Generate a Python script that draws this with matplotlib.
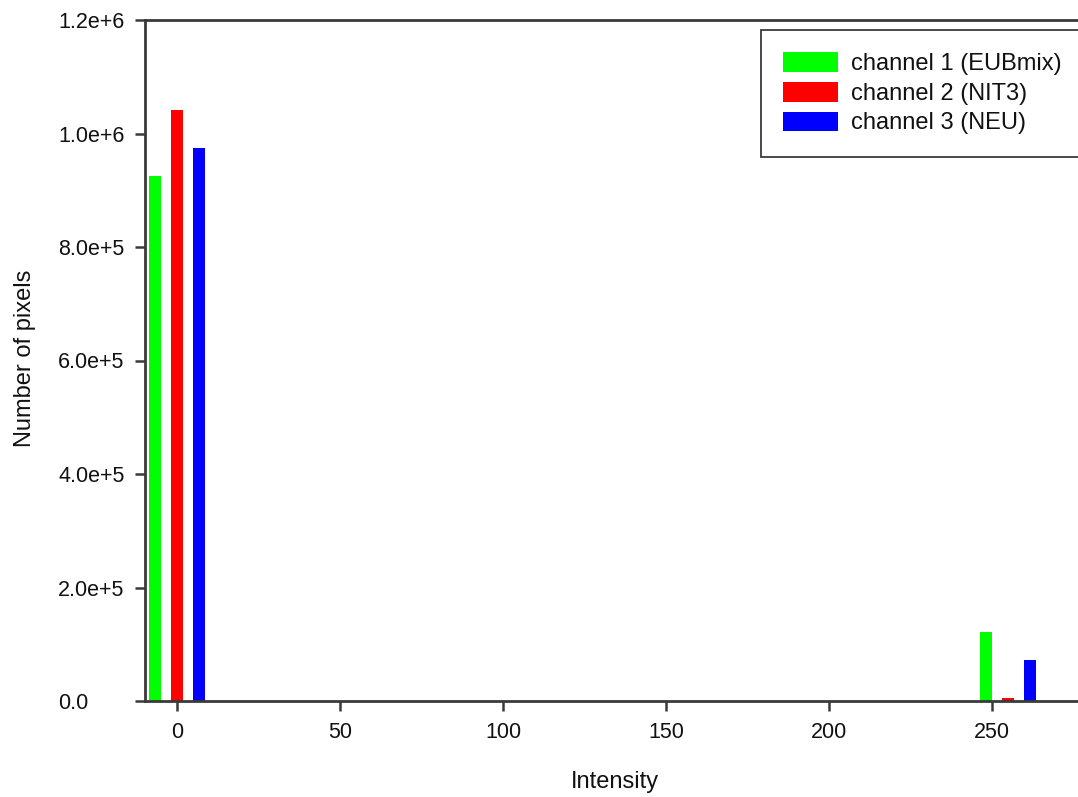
import matplotlib
matplotlib.use("Agg")
import matplotlib.pyplot as plt
import numpy as np

plt.rcParams['font.family'] = ['Liberation Sans', 'DejaVu Sans']

intensity_bins = [0, 255]
series_labels = ["channel 1 (EUBmix)", "channel 2 (NIT3)", "channel 3 (NEU)"]
channel1 = [925000, 122000]
channel2 = [1041000, 5300]
channel3 = [975000, 72000]
colors = ["#00ff00", "#ff0000", "#0000ff"]
xticks = [0, 50, 100, 150, 200, 250]
yticks = [0, 2e5, 4e5, 6e5, 8e5, 1e6, 1.2e6]
ytick_labels = ["0.0", "2.0e+5", "4.0e+5", "6.0e+5", "8.0e+5", "1.0e+6", "1.2e+6"]

W, H = 1078, 797
fig = plt.figure(figsize=(W / 100, H / 100), dpi=100)
x_left_val = -9.8
x_right_val = 280
px_per_unit = 3.26
ax_left_px = 145
ax_right_px = 177 + x_right_val * px_per_unit
ax = fig.add_axes([ax_left_px / W, (H - 701) / H,
                   (ax_right_px - ax_left_px) / W, (701 - 20) / H])

offsets = [-6.7, 0, 6.7]
width = 3.7
x = np.array(intensity_bins, dtype=float)
for vals, off, c, lab in zip([channel1, channel2, channel3], offsets, colors, series_labels):
    ax.bar(x + off, vals, width=width, color=c, edgecolor='none', label=lab)

ax.set_xlim(x_left_val, x_right_val)
ax.set_ylim(0, 1.2e6)
ax.set_xticks(xticks)
ax.set_xticklabels([str(t) for t in xticks])
ax.set_yticks(yticks)
ax.set_yticklabels(ytick_labels)

spine_color = "#3a3a3a"
for s in ax.spines.values():
    s.set_color(spine_color)
    s.set_linewidth(2.0)
ax.tick_params(axis='both', direction='out', length=7, width=1.8, color=spine_color,
               labelsize=15.5, labelcolor='#111111')
# y tick labels are left-aligned at x ~ 58 px
ax.tick_params(axis='y', pad=(135 - 58) * 0.72)
for t in ax.get_yticklabels():
    t.set_horizontalalignment('left')
ax.tick_params(axis='x', pad=8)

fig.text(615 / W, 1 - 782 / H, "Intensity", ha='center', va='center', fontsize=17, color='#111111')
fig.text(25 / W, 1 - 358 / H, "Number of pixels", ha='center', va='center', rotation=90,
         fontsize=17, color='#111111')

leg = ax.legend(loc='upper left', bbox_to_anchor=(761 / W, 1 - 30 / H),
                bbox_transform=fig.transFigure, borderaxespad=0, fontsize=17,
                handlelength=2.33, handleheight=0.9, handletextpad=0.55,
                labelspacing=0.28, borderpad=0.95, fancybox=False, framealpha=1,
                edgecolor=spine_color)
leg.get_frame().set_linewidth(1.3)
for t in leg.get_texts():
    t.set_color('#111111')

fig.savefig("out.png", dpi=100)
